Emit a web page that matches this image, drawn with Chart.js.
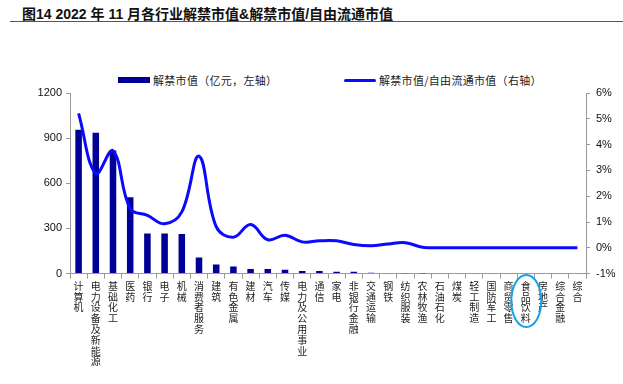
<!DOCTYPE html>
<html>
<head>
<meta charset="utf-8">
<script src="https://cdn.jsdelivr.net/npm/chart.js@4.4.0/dist/chart.umd.min.js"></script>
<style>
  html, body { margin: 0; padding: 0; background: #fff; }
  #wrap { position: relative; width: 623px; height: 384px; overflow: hidden; }
  #title {
    position: absolute; left: 22px; top: 3px;
    font: bold 14px "Liberation Sans", "Noto Sans CJK SC", sans-serif;
    color: #111; white-space: nowrap;
  }
  #rule { position: absolute; left: 10px; right: 0; top: 21px; height: 0; border-top: 1.5px solid #555; }
  .item {
    position: absolute; top: 72px; display: flex; align-items: center;
    font: 11px "Noto Sans CJK SC", sans-serif; color: #222; letter-spacing: 0.3px;
    white-space: nowrap;
  }
  .sw { display: inline-block; width: 32px; margin-right: 3px; }
  canvas { position: absolute; left: 0; top: 0; }
</style>
</head>
<body>
<div id="wrap">
  <div id="title">图14 2022 年 11 月各行业解禁市值&amp;解禁市值/自由流通市值</div>
  <div id="rule"></div>
  <div id="legend"></div>
  <canvas id="c" width="623" height="384"></canvas>
</div>
<script>
'use strict';
/* global Chart */

// ─── Data ─────────────────────────────────────────────────────────────────────
const industries = [
  '计算机', '电力设备及新能源', '基础化工', '医药', '银行', '电子', '机械', '消费者服务',
  '建筑', '有色金属', '建材', '汽车', '传媒', '电力及公用事业', '通信', '家电',
  '非银行金融', '交通运输', '钢铁', '纺织服装', '农林牧渔', '石油石化', '煤炭',
  '轻工制造', '国防军工', '商贸零售', '食品饮料', '房地产', '综合金融', '综合',
];

// 解禁市值（亿元）
const unlockValue = [
  956, 936, 818, 507, 267, 266, 263, 107,
  60, 47, 31, 31, 25, 18, 18, 12,
  12, 6, 4, 3, 1, 0, 0,
  0, 0, 0, 0, 0, 0, 0,
];

// 解禁市值/自由流通市值（%）
const unlockRatio = [
  5.21, 2.88, 3.76, 1.52, 1.26, 0.93, 1.39, 3.55,
  0.82, 0.41, 0.90, 0.31, 0.49, 0.23, 0.27, 0.27,
  0.13, 0.08, 0.15, 0.20, 0.02, 0.00, 0.00,
  0.00, 0.00, 0.00, 0.00, 0.00, 0.00, 0.00,
];

const leftTicks  = [0, 300, 600, 900, 1200];
const rightTicks = [-1, 0, 1, 2, 3, 4, 5, 6];

const highlighted = '食品饮料';

// ─── Styles ───────────────────────────────────────────────────────────────────
const BAR_COLOR  = '#000096';
const LINE_COLOR = '#0a0aff';
const AXIS_COLOR = '#9a9a9a';
const tickFont   = { family: '"Liberation Sans", Arial, sans-serif', size: 11 };

// Light-blue ellipse around one category label
const highlightPlugin = {
  id: 'highlight',
  afterDraw(chart) {
    const idx = industries.indexOf(highlighted);
    if (idx < 0) return;
    const x   = chart.scales.x.getPixelForValue(idx);
    const ctx = chart.ctx;
    ctx.save();
    ctx.strokeStyle = '#18a2e6';
    ctx.lineWidth   = 2;
    ctx.beginPath();
    ctx.ellipse(x + 0.5, 301, 15, 26, 0, 0, Math.PI * 2);
    ctx.stroke();
    ctx.restore();
  },
};

const chart = new Chart(document.getElementById('c'), {
  type: 'bar',
  data: {
    labels: industries,
    datasets: [
      {
        type: 'line',
        label: '解禁市值/自由流通市值（右轴）',
        data: unlockRatio,
        yAxisID: 'y1',
        borderColor: LINE_COLOR,
        backgroundColor: LINE_COLOR,
        borderWidth: 3,
        pointRadius: 0,
        tension: 0.4,
        order: 0,
      },
      {
        label: '解禁市值（亿元，左轴）',
        data: unlockValue,
        yAxisID: 'y',
        backgroundColor: BAR_COLOR,
        barPercentage: 0.38,
        categoryPercentage: 1,
        order: 1,
      },
    ],
  },
  options: {
    responsive: false,
    animation: false,
    layout: { padding: { top: 93, left: 0, right: 0, bottom: 15 } },
    plugins: { legend: { display: false }, tooltip: { enabled: false } },
    scales: {
      x: {
        grid: { drawOnChartArea: false, color: AXIS_COLOR, tickLength: 5, offset: true },
        border: { color: AXIS_COLOR },
        ticks: {
          autoSkip: false, maxRotation: 0, minRotation: 0, padding: 2, color: '#222',
          font: { family: '"Noto Sans CJK SC", sans-serif', size: 10, lineHeight: 1.08 },
          callback: (v) => industries[v].split(''),
        },
      },
      y: {
        position: 'left', min: 0, max: 1200,
        afterBuildTicks: (s) => { s.ticks = leftTicks.map((v) => ({ value: v })); },
        afterFit: (s) => { s.width = 70; },
        grid: { drawOnChartArea: false, color: AXIS_COLOR, tickLength: 4 },
        border: { color: AXIS_COLOR },
        ticks: { color: '#111', font: tickFont, padding: 4, callback: (v) => String(v) },
      },
      y1: {
        position: 'right', min: -1, max: 6,
        afterBuildTicks: (s) => { s.ticks = rightTicks.map((v) => ({ value: v })); },
        afterFit: (s) => { s.width = 37; },
        grid: { drawOnChartArea: false, color: AXIS_COLOR, tickLength: 4 },
        border: { color: AXIS_COLOR },
        ticks: { color: '#111', font: tickFont, padding: 6, callback: (v) => v + '%' },
      },
    },
  },
  plugins: [highlightPlugin],
});

// ─── HTML legend built from the datasets ──────────────────────────────────────
const legend    = document.getElementById('legend');
const legendX   = [118, 344];
[chart.data.datasets[1], chart.data.datasets[0]].forEach((ds, i) => {
  const item = document.createElement('span');
  item.className  = 'item';
  item.style.left = legendX[i] + 'px';
  const sw = document.createElement('span');
  sw.className = 'sw';
  const isLine = ds.type === 'line';
  sw.style.height = isLine ? '3px' : '6px';
  sw.style.background = isLine ? ds.borderColor : ds.backgroundColor;
  if (isLine) sw.style.borderRadius = '2px';
  const txt = document.createElement('span');
  txt.textContent = ds.label;
  item.appendChild(sw);
  item.appendChild(txt);
  legend.appendChild(item);
});
</script>
</body>
</html>
